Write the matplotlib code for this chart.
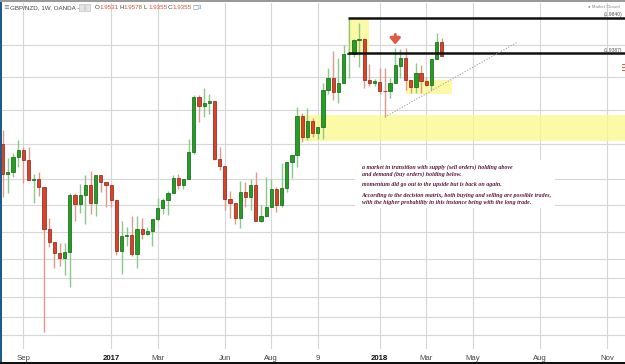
import numpy as np
import pandas as pd
import matplotlib
matplotlib.use("Agg")
import matplotlib.pyplot as plt
import matplotlib.dates as mdates
from matplotlib.patches import Rectangle

# weekly GBP/NZD candles, week starting Monday
start = "2016-08-08"
opens = [1.8247, 1.7869, 1.7894, 1.8083, 1.8171, 1.8045, 1.7793, 1.7806, 1.7705, 1.7176,
         1.7012, 1.6873, 1.6810, 1.6886, 1.7604, 1.7491, 1.7604, 1.7730, 1.7503, 1.7856,
         1.7768, 1.7730, 1.7541, 1.6898, 1.7087, 1.7100, 1.6861, 1.7176, 1.7113, 1.7150,
         1.7302, 1.7440, 1.7541, 1.7629, 1.7818, 1.7730, 1.7806, 1.8146, 1.8839, 1.8725,
         1.8763, 1.8788, 1.8058, 1.7969, 1.7554, 1.7503, 1.7314, 1.7642, 1.7579, 1.7730,
         1.7276, 1.7339, 1.7453, 1.7680, 1.7478, 1.7692, 1.8020, 1.8108, 1.8599, 1.8335,
         1.8536, 1.8385, 1.8461, 1.8927, 1.9078, 1.8902, 1.9015, 1.9381, 1.9381, 1.9557,
         1.9570, 1.9053, 1.9015, 1.9028, 1.8914, 1.8914, 1.9015, 1.9229, 1.9330, 1.9053,
         1.8965, 1.9141, 1.9040, 1.8990, 1.9318, 1.9531]
highs = [1.8423, 1.8070, 1.8133, 1.8297, 1.8209, 1.8209, 1.7869, 1.7894, 1.7705, 1.7314,
         1.7012, 1.6999, 1.6999, 1.7629, 1.7629, 1.7743, 1.7856, 1.7906, 1.7856, 1.7856,
         1.7768, 1.7730, 1.7541, 1.7276, 1.7201, 1.7339, 1.7339, 1.7314, 1.7201, 1.7302,
         1.7566, 1.7566, 1.7654, 1.7856, 1.7869, 1.7806, 1.8310, 1.8864, 1.8864, 1.8952,
         1.8877, 1.8788, 1.8209, 1.7969, 1.7654, 1.7503, 1.7780, 1.7768, 1.7806, 1.7894,
         1.7478, 1.7831, 1.7806, 1.7705, 1.8007, 1.8020, 1.8108, 1.8713, 1.8637, 1.8700,
         1.8574, 1.8461, 1.9015, 1.9204, 1.9418, 1.9330, 1.9494, 1.9840, 1.9570, 1.9771,
         1.9582, 1.9255, 1.9066, 1.9204, 1.9204, 1.9078, 1.9456, 1.9444, 1.9456, 1.9053,
         1.9267, 1.9242, 1.9091, 1.9318, 1.9645, 1.9578]
lows = [1.7579, 1.7629, 1.7831, 1.7957, 1.7755, 1.7793, 1.7503, 1.7591, 1.5878, 1.6949,
        1.6684, 1.6709, 1.6596, 1.6445, 1.7276, 1.7377, 1.7239, 1.7365, 1.7339, 1.7642,
        1.7453, 1.7453, 1.6848, 1.6609, 1.6961, 1.6835, 1.6684, 1.7050, 1.7100, 1.6961,
        1.7276, 1.7365, 1.7352, 1.7629, 1.7680, 1.7680, 1.7806, 1.8121, 1.8524, 1.8587,
        1.8625, 1.8045, 1.7919, 1.7415, 1.7314, 1.7239, 1.7188, 1.7453, 1.7415, 1.7276,
        1.7264, 1.7327, 1.7453, 1.7390, 1.7453, 1.7642, 1.7818, 1.7957, 1.8272, 1.8297,
        1.8335, 1.8310, 1.8310, 1.8877, 1.8801, 1.8763, 1.9015, 1.9078, 1.9343, 1.9217,
        1.8952, 1.8977, 1.8977, 1.8877, 1.8587, 1.8826, 1.9015, 1.9078, 1.8927, 1.8889,
        1.8889, 1.8889, 1.8977, 1.8927, 1.9318, 1.9355]
closes = [1.7869, 1.7894, 1.8083, 1.8171, 1.8045, 1.7793, 1.7806, 1.7705, 1.7176, 1.7012,
          1.6873, 1.6810, 1.6886, 1.7604, 1.7491, 1.7604, 1.7730, 1.7503, 1.7856, 1.7768,
          1.7730, 1.7541, 1.6898, 1.7087, 1.7100, 1.6861, 1.7176, 1.7113, 1.7150, 1.7302,
          1.7440, 1.7541, 1.7629, 1.7818, 1.7730, 1.7806, 1.8146, 1.8839, 1.8725, 1.8763,
          1.8788, 1.8058, 1.7969, 1.7554, 1.7503, 1.7314, 1.7642, 1.7579, 1.7730, 1.7276,
          1.7339, 1.7453, 1.7680, 1.7478, 1.7692, 1.8020, 1.8108, 1.8599, 1.8335, 1.8536,
          1.8385, 1.8461, 1.8927, 1.9078, 1.8902, 1.9015, 1.9381, 1.9390, 1.9557, 1.9570,
          1.9053, 1.9015, 1.9040, 1.8914, 1.8910, 1.9015, 1.9242, 1.9330, 1.9053, 1.8965,
          1.9141, 1.9040, 1.8990, 1.9318, 1.9532, 1.9355]

tick_dates = ["2016-09-05", "2017-01-02", "2017-03-06", "2017-06-05", "2017-08-07", "2017-10-09",
              "2018-01-01", "2018-03-05", "2018-05-07", "2018-08-06", "2018-11-05"]
tick_labels = ["Sep", "2017", "Mar", "Jun", "Aug", "9", "2018", "Mar", "May", "Aug", "Nov"]
grid_prices = [1.9494, 1.9087, 1.8675, 1.8247, 1.7802, 1.7472, 1.7134, 1.6794,
               1.6554, 1.6315, 1.6073, 1.5840]

supply_high, supply_low = 1.9840, 1.9387
# zones drawn by hand on the chart: (start, end, top, bottom)
zones = [("2017-11-19", "2017-12-18", 1.9840, 1.9387),
         ("2018-02-05", "2018-04-09", 1.9053, 1.8877),
         ("2017-09-15", "2019-01-01", 1.8612, 1.8285)]
trend = (["2018-01-08", "2018-07-07"], [1.8587, 1.9532])
notes = ["a market in transition with supply (sell orders) holding above",
         "and demand (buy orders) holding below.",
         "momentum did go out to the upside but is back on again.",
         "According to the decision matrix, both buying and selling are possible trades,",
         "with the higher probability in this instance being with the long trade."]

GREEN, GREEN_E, GREEN_W = "#23a023", "#106010", "#8cc88c"
RED, RED_E, RED_W = "#d9432b", "#8a2010", "#dc9a8c"

dates = mdates.date2num(pd.date_range(start, periods=len(opens), freq="7D"))
o, h, l, c = map(np.array, (opens, highs, lows, closes))

W, H = 625, 364
fig = plt.figure(figsize=(W / 100, H / 100), dpi=100)
fig.patch.set_facecolor("white")
ax = fig.add_axes([2 / W, 15 / H, 623 / W, 346 / H])

day0 = dates[0]
ax.set_xlim(day0 - 0.136 * 7, day0 + 120.48 * 7)
ax.set_ylim(1.5664, 2.0023)

ax.set_yticks(grid_prices)
ax.set_yticklabels([])
ax.set_xticks(mdates.date2num(pd.to_datetime(tick_dates)))
ax.set_xticklabels(tick_labels)
ax.tick_params(length=0, pad=4, labelsize=5.6, labelcolor="#444444")
for lab in ax.get_xticklabels():
    lab.set_family("Liberation Sans")
    if lab.get_text() in ("2017", "2018"):
        lab.set_fontweight("bold")
        lab.set_color("#111111")
ax.grid(True, color="#d6d6d6", lw=0.8)
ax.set_axisbelow(True)
for s in ax.spines.values():
    s.set_visible(False)

# zones
for z0, z1, top, bot in zones:
    a, b = mdates.date2num(pd.to_datetime([z0, z1]))
    ax.add_patch(Rectangle((a, bot), b - a, top - bot, facecolor="#fcf88a", alpha=0.75,
                           edgecolor="none", zorder=1))

# candles
up = c >= o
wick_col = np.where(up, GREEN_W, RED_W)
ax.vlines(dates, l, h, colors=wick_col, lw=1.0, zorder=2)
body_lo = np.minimum(o, c)
body_h = np.maximum(np.abs(c - o), 0.0008)
ax.bar(dates, body_h, bottom=body_lo, width=4.4, color=np.where(up, GREEN, RED),
       edgecolor=np.where(up, GREEN_E, RED_E), linewidth=0.5, zorder=3)

# supply / demand lines
x_line = mdates.date2num(pd.Timestamp(zones[0][0]))
for p in (supply_high, supply_low):
    ax.hlines(p, x_line, ax.get_xlim()[1], colors="#111111", lw=1.8, zorder=4)

tx = mdates.date2num(pd.to_datetime(trend[0]))
ax.plot(tx, trend[1], color="#a0a0a0", lw=0.8, ls=(0, (1, 1.5)), zorder=4)

# red arrow
arr_x = dates[76]
ax.annotate("", xy=(arr_x, 1.9500), xytext=(arr_x, 1.9625),
            arrowprops=dict(arrowstyle="-|>,head_width=0.3,head_length=0.35", mutation_scale=10,
                            color="#e05a42", lw=2.2, shrinkA=0, shrinkB=0), zorder=5)

# notes box
fig.patches.append(Rectangle((355 / W, 1 - 208 / H), 200 / W, 48 / H, transform=fig.transFigure,
                             facecolor="white", edgecolor="none", zorder=5))
note_y = [166.7, 174, 184.3, 195, 202.7]
for t, yy in zip(notes, note_y):
    fig.text(361.5 / W, 1 - yy / H, t, fontsize=4.3, family="Liberation Serif", style="italic",
             weight="bold", color="#5e1a3c", va="center", ha="left", zorder=6)

# header
hy = 1 - 7.5 / H
fig.text(3 / W, hy, "\u2261", fontsize=5, color="#777777", va="center")
fig.text(10 / W, hy, "GBP/NZD, 1W, OANDA -", fontsize=4.5, color="#444444",
         family="Liberation Sans", va="center")
for xx in (79, 85):
    fig.patches.append(Rectangle((xx / W, 1 - 10.5 / H), 5 / W, 6 / H, transform=fig.transFigure,
                                 facecolor="#e4e4e4", edgecolor="#b8b8b8", lw=0.4))
ohlc_txt = [("O", "1.9531", 95), ("H", "1.9578", 119), ("L", "1.9355", 144), ("C", "1.9355", 168)]
for k, v, xx in ohlc_txt:
    fig.text(xx / W, hy, k, fontsize=4.5, color="#444444", family="Liberation Sans", va="center")
    fig.text((xx + 4.5) / W, hy, v, fontsize=4.5, color="#d0503a", family="Liberation Sans",
             va="center")
fig.text(192 / W, hy, "\u25a1", fontsize=4.5, color="#888888", va="center")
fig.text(197.5 / W, hy, "3", fontsize=4.5, color="#3a8ee0", family="Liberation Sans", va="center")

fig.text(588 / W, 1 - 6.5 / H, "\u25cf Market Closed", fontsize=3.2, color="#888888",
         family="Liberation Sans", va="center")
fig.text(604 / W, 1 - 14.5 / H, "(1.9840)", fontsize=3.6, color="#555555",
         family="Liberation Sans", va="center")
fig.text(604 / W, 1 - 50.5 / H, "(1.9387)", fontsize=3.6, color="#555555",
         family="Liberation Sans", va="center")
for yy in (64, 67, 70):
    fig.lines.append(plt.Line2D([622 / W, 624 / W], [1 - yy / H] * 2, transform=fig.transFigure,
                                color="#e05a42", lw=0.7))

# frame bits of the screenshot
fig.patches.append(Rectangle((0, 0), 2 / W, 1, transform=fig.transFigure,
                             facecolor="#1d5b8c", edgecolor="none"))
fig.patches.append(Rectangle((0, 1 - 1.5 / H), 1, 1.5 / H, transform=fig.transFigure,
                             facecolor="#9a9a9a", edgecolor="none"))
fig.patches.append(Rectangle((0, 0), 1, 2.5 / H, transform=fig.transFigure,
                             facecolor="#111111", edgecolor="none"))

fig.savefig("out.png", dpi=100)
